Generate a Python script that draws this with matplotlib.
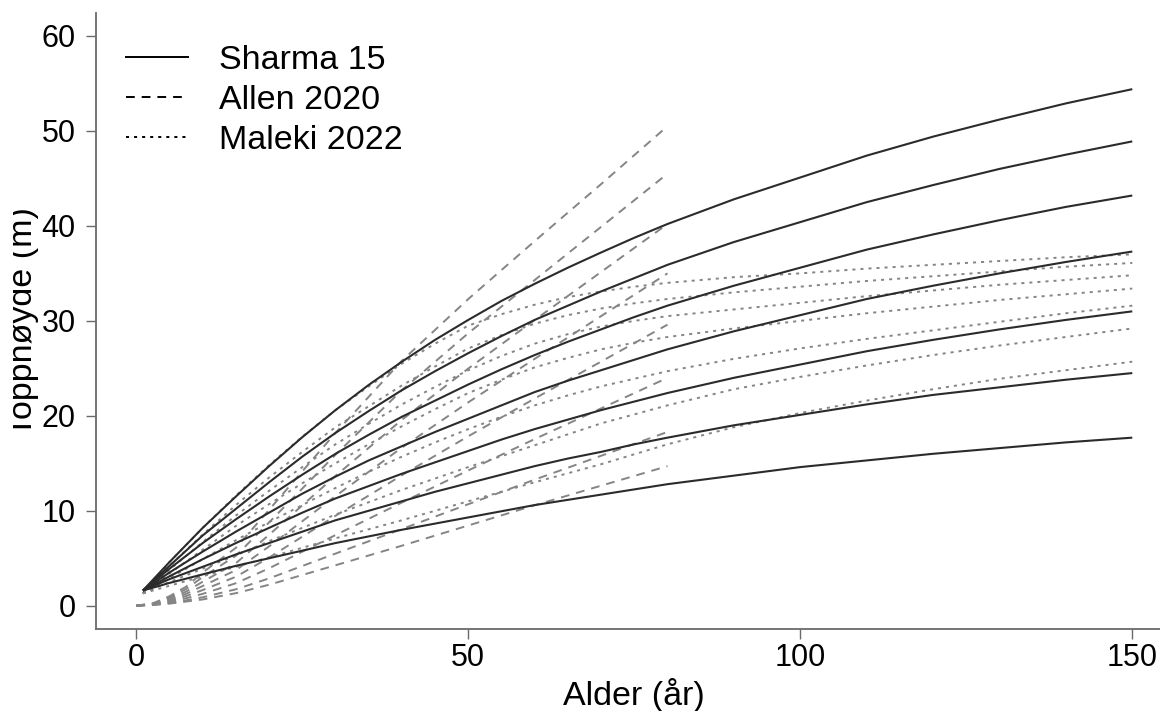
import matplotlib
matplotlib.use("Agg")
import matplotlib.pyplot as plt
from matplotlib.lines import Line2D
from matplotlib.transforms import Bbox, TransformedBbox

plt.rcParams['font.family'] = ['Liberation Sans', 'DejaVu Sans']
plt.rcParams['lines.scale_dashes'] = False

# ---------------- data ----------------
sharma_ages = [1, 5, 10, 15, 20, 25, 30, 35, 40, 45, 50, 55, 60, 65, 70, 75, 80,
               90, 100, 110, 120, 130, 140, 150]
sharma_1 = [1.6, 4.6, 8.2, 11.5, 14.7, 17.75, 20.6, 23.25, 25.7, 28.0, 30.1, 32.1, 33.9, 35.6, 37.2, 38.75, 40.2,
            42.8, 45.1, 47.4, 49.4, 51.2, 52.9, 54.4]
sharma_2 = [1.6, 4.2, 7.4, 10.2, 13.0, 15.7, 18.2, 20.5, 22.7, 24.7, 26.6, 28.4, 30.1, 31.6, 33.1, 34.5, 35.9,
            38.3, 40.4, 42.5, 44.3, 46.0, 47.5, 48.9]
sharma_3 = [1.6, 3.9, 6.6, 9.1, 11.5, 13.8, 16.0, 18.0, 19.9, 21.6, 23.3, 24.9, 26.4, 27.8, 29.1, 30.4, 31.6,
            33.7, 35.6, 37.5, 39.1, 40.6, 42.0, 43.2]
sharma_4 = [1.6, 3.5, 5.7, 7.8, 9.8, 11.8, 13.6, 15.3, 16.8, 18.3, 19.7, 21.1, 22.5, 23.7, 24.8, 25.9, 27.0,
            28.9, 30.6, 32.3, 33.7, 35.0, 36.2, 37.3]
sharma_5 = [1.6, 3.1, 4.9, 6.6, 8.2, 9.8, 11.3, 12.6, 13.9, 15.1, 16.3, 17.5, 18.6, 19.6, 20.6, 21.5, 22.4,
            24.0, 25.4, 26.8, 28.0, 29.1, 30.1, 31.0]
sharma_6 = [1.6, 2.8, 4.1, 5.4, 6.6, 7.8, 9.0, 10.0, 11.0, 12.0, 12.9, 13.8, 14.7, 15.5, 16.2, 17.0, 17.7,
            19.0, 20.1, 21.2, 22.2, 23.0, 23.8, 24.5]
sharma_7 = [1.6, 2.4, 3.3, 4.2, 5.0, 5.8, 6.6, 7.3, 8.0, 8.65, 9.3, 9.95, 10.6, 11.15, 11.7, 12.25, 12.8,
            13.7, 14.6, 15.3, 16.0, 16.6, 17.2, 17.7]
sharma_curves = [sharma_1, sharma_2, sharma_3, sharma_4, sharma_5, sharma_6, sharma_7]

allen_ages = [0, 2.5, 5, 7.5, 10, 15, 20, 30, 40, 50, 60, 70, 80]
allen_1 = [0, 0.25, 1.0, 2.0, 3.5, 6.1, 10.1, 18.2, 25.8, 32.3, 38.4, 44.4, 50.5]
allen_2 = [0, 0.23, 0.88, 1.76, 3.02, 5.26, 8.78, 15.9, 22.7, 28.7, 34.3, 39.9, 45.5]
allen_3 = [0, 0.20, 0.75, 1.49, 2.53, 4.48, 7.47, 13.67, 19.58, 24.98, 30.09, 35.15, 40.2]
allen_4 = [0, 0.18, 0.63, 1.25, 2.08, 3.75, 6.25, 11.55, 16.65, 21.42, 26.0, 30.5, 35.0]
allen_5 = [0, 0.15, 0.51, 1.02, 1.65, 3.05, 5.07, 9.47, 13.74, 17.85, 21.82, 25.71, 29.6]
allen_6 = [0, 0.12, 0.39, 0.79, 1.25, 2.37, 3.94, 7.44, 10.87, 14.25, 17.55, 20.78, 24.0]
allen_7 = [0, 0.09, 0.29, 0.57, 0.89, 1.73, 2.88, 5.49, 8.08, 10.69, 13.28, 15.79, 18.3]
allen_8 = [0, 0.07, 0.22, 0.44, 0.66, 1.32, 2.21, 4.26, 6.32, 8.45, 10.58, 12.64, 14.7]
allen_curves = [allen_1, allen_2, allen_3, allen_4, allen_5, allen_6, allen_7, allen_8]

maleki_ages = [1, 5, 10, 15, 20, 25, 30, 35, 40, 45, 50, 55, 60, 65, 70, 75, 80,
               90, 100, 110, 120, 130, 140, 150]
maleki_1 = [1.3, 4.6, 8.2, 11.6, 14.8, 17.8, 20.6, 23.1, 25.5, 27.6, 29.5, 30.7, 31.7, 32.5, 33.1, 33.6, 34.0,
            34.6, 35.0, 35.5, 35.9, 36.3, 36.7, 37.0]
maleki_2 = [1.3, 4.2, 7.5, 10.6, 13.5, 16.2, 18.8, 21.0, 23.2, 25.2, 27.1, 28.5, 29.7, 30.6, 31.3, 31.85, 32.3,
            33.0, 33.6, 34.2, 34.7, 35.2, 35.7, 36.1]
maleki_3 = [1.3, 3.8, 6.7, 9.5, 12.1, 14.6, 17.0, 19.15, 21.2, 23.05, 24.8, 26.3, 27.6, 28.6, 29.4, 30.0, 30.5,
            31.2, 31.9, 32.6, 33.2, 33.8, 34.3, 34.8]
maleki_4 = [1.3, 3.4, 5.9, 8.4, 10.7, 12.9, 15.0, 17.0, 18.9, 20.7, 22.4, 23.8, 25.1, 26.1, 27.0, 27.7, 28.3,
            29.2, 30.0, 30.8, 31.5, 32.2, 32.8, 33.4]
maleki_5 = [1.3, 2.9, 4.9, 6.9, 8.8, 10.6, 12.4, 14.1, 15.7, 17.2, 18.6, 19.9, 21.1, 22.15, 23.1, 23.9, 24.7,
            26.0, 27.1, 28.1, 29.0, 29.9, 30.8, 31.6]
maleki_6 = [1.3, 2.5, 3.9, 5.3, 6.8, 8.2, 9.6, 10.9, 12.2, 13.4, 14.6, 15.75, 16.9, 18.05, 19.2, 20.15, 21.1,
            22.8, 24.1, 25.3, 26.4, 27.4, 28.3, 29.2]
maleki_7 = [1.3, 2.1, 3.1, 4.1, 5.1, 6.1, 7.1, 8.05, 9.0, 10.0, 11.0, 12.0, 13.0, 13.95, 14.9, 15.95, 17.0,
            18.8, 20.3, 21.6, 22.8, 23.9, 24.8, 25.7]
maleki_curves = [maleki_1, maleki_2, maleki_3, maleki_4, maleki_5, maleki_6, maleki_7]

legend_labels = ["Sharma 15", "Allen 2020", "Maleki 2022"]
x_ticks = [0, 50, 100, 150]
y_ticks = [0, 10, 20, 30, 40, 50, 60]
x_label = "Alder (år)"
y_label = "Topphøyde (m)"

# ---------------- styles ----------------
W, H = 1160, 711
dark = "#2b2b2b"
gray = "#858585"
spine_c = "#6a6a6a"
dash_style = (0, (6.3, 5.0))
dot_style = (0, (2.2, 3.6))

fig = plt.figure(figsize=(W / 100, H / 100), dpi=100)
ax = fig.add_axes([96 / W, 1 - 628.7 / H, (1172 - 96) / W, (628.7 - 13) / H])

for ys in allen_curves:
    ax.plot(allen_ages, ys, color=gray, lw=1.4, linestyle=dash_style)
for ys in maleki_curves:
    ax.plot(maleki_ages, ys, color=gray, lw=1.4, linestyle=dot_style)
for ys in sharma_curves:
    ax.plot(sharma_ages, ys, color=dark, lw=1.5, solid_capstyle='butt', solid_joinstyle='round')

ax.set_xlim(-6.07, 155.98)
ax.set_ylim(-2.42, 62.42)
ax.set_xticks(x_ticks)
ax.set_yticks(y_ticks)
ax.spines['top'].set_visible(False)
ax.spines['right'].set_visible(False)
for s in ('left', 'bottom'):
    ax.spines[s].set_color(spine_c)
    ax.spines[s].set_linewidth(1.3)
ax.tick_params(axis='both', direction='out', length=7, width=1.0, color=spine_c,
               labelsize=22, labelcolor='black')
ax.tick_params(axis='x', pad=3.5)
ax.tick_params(axis='y', pad=7.5)

fig.text(634 / W, 1 - 705 / H, x_label, fontsize=24.5, ha='center', va='baseline')
yl = fig.text(32 / W, 1 - 322 / H, y_label, fontsize=24.5, rotation=90,
              rotation_mode='anchor', ha='center', va='baseline')
yl.set_clip_box(TransformedBbox(Bbox([[13 / W, 0], [1, 1]]), fig.transFigure))
yl.set_clip_on(True)

handles = [Line2D([], [], color='black', lw=1.4),
           Line2D([], [], color='black', lw=1.4, linestyle=dash_style),
           Line2D([], [], color='black', lw=1.4, linestyle=dot_style)]
leg = ax.legend(handles, legend_labels, loc='upper left',
                bbox_to_anchor=(126 / W, 1 - 45 / H), bbox_transform=fig.transFigure,
                frameon=False, fontsize=24.5, handlelength=1.82, handletextpad=0.91,
                labelspacing=0.27, borderpad=0, borderaxespad=0)

fig.savefig("out.png", dpi=100)
